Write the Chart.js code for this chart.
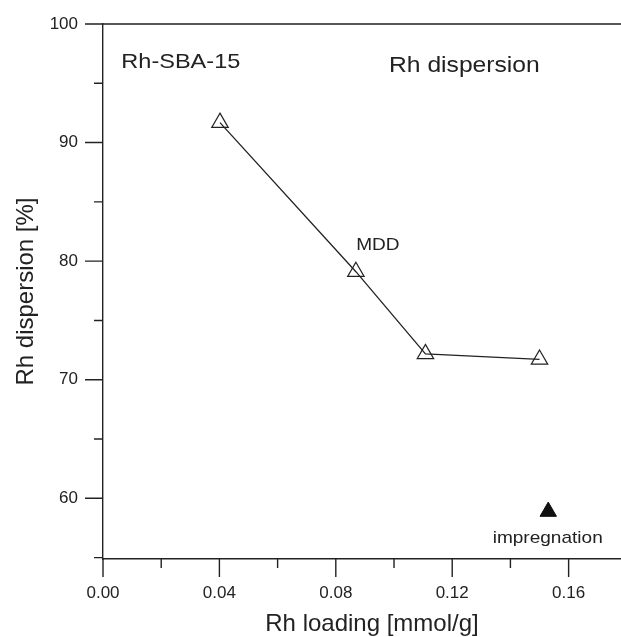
<!DOCTYPE html>
<html>
<head>
<meta charset="utf-8">
<script src="https://cdn.jsdelivr.net/npm/chart.js@4"></script>
<style>
  body { margin: 0; background: #fff; }
  #wrap { width: 621px; height: 637px; }
</style>
</head>
<body>
<div id="wrap"><canvas id="dispersionChart"></canvas></div>
<script>
// values
var mddLoading = [0.0402, 0.0869, 0.1108, 0.1500];
var mddDispersion = [91.68, 79.11, 72.18, 71.71];
var impLoading = [0.1530];
var impDispersion = [58.88];

var xTicks = [0.00, 0.04, 0.08, 0.12, 0.16];
var xMinorTicks = [0.02, 0.06, 0.10, 0.14];
var yTicks = [60, 70, 80, 90, 100];
var yMinorTicks = [55, 65, 75, 85, 95];

var ink = '#222';
var fontName = '"Liberation Sans", Arial, Helvetica, sans-serif';

function toPoints(xs, ys) {
    var pts = [];
    for (var i = 0; i < xs.length; i++) {
        pts.push({x: xs[i], y: ys[i]});
    }
    return pts;
}

// top frame line plus outward major / minor tick marks
var frameTicks = {
    id: 'frameTicks',
    afterDraw: function(chart) {
        var ctx = chart.ctx;
        var area = chart.chartArea;
        var xs = chart.scales.x;
        var ys = chart.scales.y;
        ctx.save();
        ctx.strokeStyle = ink;
        ctx.lineWidth = 1.4;
        ctx.beginPath();
        ctx.moveTo(area.left, area.top);
        ctx.lineTo(area.right, area.top);

        xTicks.forEach(function(v) {
            var px = xs.getPixelForValue(v);
            ctx.moveTo(px, area.bottom);
            ctx.lineTo(px, area.bottom + 18);
        });
        xMinorTicks.forEach(function(v) {
            var px = xs.getPixelForValue(v);
            ctx.moveTo(px, area.bottom);
            ctx.lineTo(px, area.bottom + 9);
        });
        yTicks.forEach(function(v) {
            var py = ys.getPixelForValue(v);
            ctx.moveTo(area.left, py);
            ctx.lineTo(area.left - 18, py);
        });
        yMinorTicks.forEach(function(v) {
            var py = ys.getPixelForValue(v);
            ctx.moveTo(area.left, py);
            ctx.lineTo(area.left - 9, py);
        });
        ctx.stroke();
        ctx.restore();
    }
};

// text notes inside the plot, anchored in data units (left edge, baseline)
var notes = [
    {text: 'Rh-SBA-15', x: 0.0063, y: 96.26, size: 21},
    {text: 'Rh dispersion', x: 0.0983, y: 95.98, size: 22},
    {text: 'MDD', x: 0.0870, y: 80.94, size: 17},
    {text: 'impregnation', x: 0.1339, y: 56.27, size: 17}
];

var noteLabels = {
    id: 'noteLabels',
    afterDraw: function(chart) {
        var ctx = chart.ctx;
        var xs = chart.scales.x;
        var ys = chart.scales.y;
        notes.forEach(function(n) {
            ctx.save();
            ctx.translate(xs.getPixelForValue(n.x), ys.getPixelForValue(n.y));
            ctx.scale(1.12, 1); // the figure's lettering is a bit wide
            ctx.fillStyle = ink;
            ctx.font = n.size + 'px ' + fontName;
            ctx.textAlign = 'left';
            ctx.textBaseline = 'alphabetic';
            ctx.fillText(n.text, 0, 0);
            ctx.restore();
        });
    }
};

var ctx = document.getElementById('dispersionChart').getContext('2d');

new Chart(ctx, {
    type: 'scatter',
    data: {
        datasets: [{
            label: 'MDD',
            data: toPoints(mddLoading, mddDispersion),
            showLine: true,
            borderColor: ink,
            borderWidth: 1.3,
            pointStyle: 'triangle',
            pointRadius: 9.5,
            pointBorderWidth: 1.2,
            pointBorderColor: ink,
            pointBackgroundColor: 'rgba(0,0,0,0)'
        }, {
            label: 'impregnation',
            data: toPoints(impLoading, impDispersion),
            showLine: false,
            pointStyle: 'triangle',
            pointRadius: 9.5,
            pointBorderWidth: 1,
            pointBorderColor: '#111',
            pointBackgroundColor: '#111'
        }]
    },
    options: {
        responsive: true,
        maintainAspectRatio: false,
        animation: false,
        layout: {
            autoPadding: false,
            padding: {top: 24, right: 0, bottom: 0, left: 0}
        },
        plugins: {
            legend: {display: false},
            tooltip: {enabled: false}
        },
        scales: {
            x: {
                type: 'linear',
                position: 'bottom',
                min: 0,
                max: 0.178,
                afterBuildTicks: function(scale) {
                    scale.ticks = xTicks.map(function(v) { return {value: v}; });
                },
                afterFit: function(scale) {
                    scale.height = 78;
                    // the plot runs right to the canvas edge
                    scale.paddingLeft = 0;
                    scale.paddingRight = 0;
                },
                grid: {display: false, drawTicks: false},
                border: {display: true, color: ink, width: 1.4},
                ticks: {
                    padding: 24,
                    color: ink,
                    maxRotation: 0,
                    font: {family: fontName, size: 17},
                    callback: function(value) {
                        return value.toFixed(2);
                    }
                },
                title: {
                    display: true,
                    // leading spaces nudge the centred title a little right, as in the figure
                    text: '   Rh loading [mmol/g]',
                    color: ink,
                    font: {family: fontName, size: 24, lineHeight: 1},
                    padding: {top: 0, bottom: 1}
                }
            },
            y: {
                type: 'linear',
                min: 54.88,
                max: 100,
                afterBuildTicks: function(scale) {
                    scale.ticks = yTicks.map(function(v) { return {value: v}; });
                },
                afterFit: function(scale) {
                    scale.width = 103;
                    scale.paddingTop = 0;
                    scale.paddingBottom = 0;
                },
                grid: {display: false, drawTicks: false},
                border: {display: true, color: ink, width: 1.4},
                ticks: {
                    padding: 25,
                    color: ink,
                    font: {family: fontName, size: 17}
                },
                title: {
                    display: true,
                    text: 'Rh dispersion [%]',
                    color: ink,
                    font: {family: fontName, size: 24, lineHeight: 1},
                    padding: {top: 14, bottom: 0}
                }
            }
        }
    },
    plugins: [frameTicks, noteLabels]
});
</script>
</body>
</html>
